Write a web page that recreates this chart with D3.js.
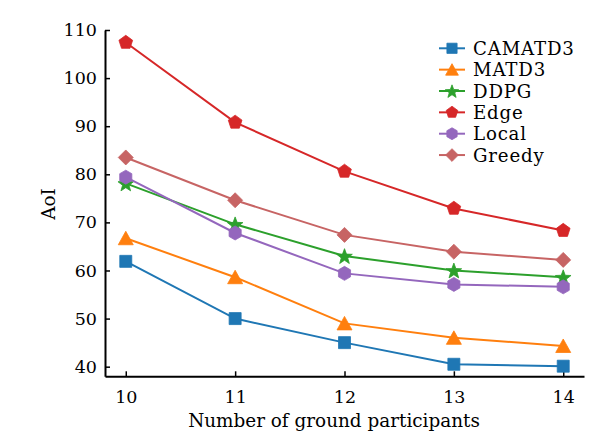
<!DOCTYPE html>
<html>
<head>
<meta charset="utf-8">
<script src="https://cdn.jsdelivr.net/npm/d3@7"></script>
<style>
  html, body { margin: 0; padding: 0; background: #fff; }
  svg { display: block; }
  text { font-family: "DejaVu Serif", serif; fill: #000; }
</style>
</head>
<body>
<svg id="chart" width="614" height="441"></svg>
<script>
const xValues = [10, 11, 12, 13, 14];
const seriesNames = ["CAMATD3", "MATD3", "DDPG", "Edge", "Local", "Greedy"];
const camatd3 = [61.9, 50.0, 45.0, 40.5, 40.1];
const matd3   = [66.7, 58.6, 49.0, 46.0, 44.3];
const ddpg    = [78.1, 69.6, 63.0, 60.0, 58.6];
const edge    = [107.4, 90.8, 80.6, 72.9, 68.3];
const local   = [79.4, 67.8, 59.4, 57.1, 56.6];
const greedy  = [83.5, 74.6, 67.4, 63.9, 62.2];
const yTicks = [40, 50, 60, 70, 80, 90, 100, 110];
const xLabel = "Number of ground participants";
const yLabel = "AoI";

const colors = ["#1f77b4", "#ff7f0e", "#2ca02c", "#d62728", "#9467bd", "#c76464"];
const markers = ["square", "triangle", "star", "pentagon", "hexagon", "diamond"];
const seriesValues = [camatd3, matd3, ddpg, edge, local, greedy];

const svg = d3.select("#chart");
const x = d3.scaleLinear().domain([9.81, 14.19]).range([105, 584]);
const y = d3.scaleLinear().domain([38, 110]).range([376.3, 30]);

function polygonPath(n, r, rot) {
  const pts = [];
  for (let i = 0; i < n; i++) {
    const a = rot + i * 2 * Math.PI / n;
    pts.push([r * Math.sin(a), -r * Math.cos(a)]);
  }
  return "M" + pts.map(p => p[0].toFixed(2) + "," + p[1].toFixed(2)).join("L") + "Z";
}
function starPath(ro, ri) {
  const pts = [];
  for (let i = 0; i < 10; i++) {
    const r = i % 2 === 0 ? ro : ri;
    const a = i * Math.PI / 5;
    pts.push([r * Math.sin(a), -r * Math.cos(a) + 0.8]);
  }
  return "M" + pts.map(p => p[0].toFixed(2) + "," + p[1].toFixed(2)).join("L") + "Z";
}
function markerPath(kind, s) {
  switch (kind) {
    case "square": return `M${-6*s},${-6*s}H${6*s}V${6*s}H${-6*s}Z`;
    case "triangle": return `M0,${-7*s}L${7.5*s},${6.5*s}L${-7.5*s},${6.5*s}Z`;
    case "star": return starPath(8.2*s, 3.4*s);
    case "pentagon": return polygonPath(5, 7.2*s, 0);
    case "hexagon": return polygonPath(6, 7*s, 0);
    case "diamond": return polygonPath(4, 7.5*s, 0);
  }
}

// axes
const yAxis = d3.axisLeft(y).tickValues(yTicks).tickSizeInner(-5).tickSizeOuter(0).tickPadding(8);
const xAxis = d3.axisBottom(x).tickValues(xValues).tickSizeInner(-5).tickSizeOuter(0).tickPadding(14).tickFormat(d3.format("d"));

const gy = svg.append("g").attr("transform", "translate(105,0)").call(yAxis);
const gx = svg.append("g").attr("transform", "translate(0,376.3)").call(xAxis);
[gx, gy].forEach(g => {
  g.select(".domain").attr("stroke", "#000").attr("stroke-width", 2);
  g.selectAll(".tick line").attr("stroke", "#000").attr("stroke-width", 1.5);
  g.selectAll(".tick text").attr("font-family", "DejaVu Serif").attr("font-size", 17.5).attr("fill", "#000");
});

// series
seriesValues.forEach((vals, si) => {
  const data = vals.map((v, i) => [xValues[i], v]);
  svg.append("path")
    .datum(data)
    .attr("fill", "none")
    .attr("stroke", colors[si])
    .attr("stroke-width", 2)
    .attr("d", d3.line().x(d => x(d[0])).y(d => y(d[1])));
  svg.append("g").selectAll("path")
    .data(data)
    .join("path")
    .attr("transform", d => `translate(${x(d[0])},${y(d[1])})`)
    .attr("d", markerPath(markers[si], 1))
    .attr("fill", colors[si])
    .attr("stroke", colors[si])
    .attr("stroke-width", 0.8);
});

// axis labels
svg.append("text")
  .attr("x", 334).attr("y", 427)
  .attr("text-anchor", "middle")
  .attr("font-size", 18.4)
  .text(xLabel);
svg.append("text")
  .attr("transform", "translate(55,204) rotate(-90)")
  .attr("text-anchor", "middle")
  .attr("font-size", 18.4)
  .text(yLabel);

// legend
const lg = svg.append("g");
seriesNames.forEach((name, i) => {
  const cy = 48.3 + i * 21.35;
  lg.append("line").attr("x1", 439).attr("x2", 465).attr("y1", cy).attr("y2", cy)
    .attr("stroke", colors[i]).attr("stroke-width", 2);
  lg.append("path").attr("transform", `translate(452,${cy})`)
    .attr("d", markerPath(markers[i], 0.85))
    .attr("fill", colors[i]).attr("stroke", colors[i]).attr("stroke-width", 0.8);
  lg.append("text").attr("x", 473).attr("y", cy).attr("dy", "0.36em")
    .attr("font-size", 18.2).attr("letter-spacing", 0.8).text(name);
});
</script>
</body>
</html>
